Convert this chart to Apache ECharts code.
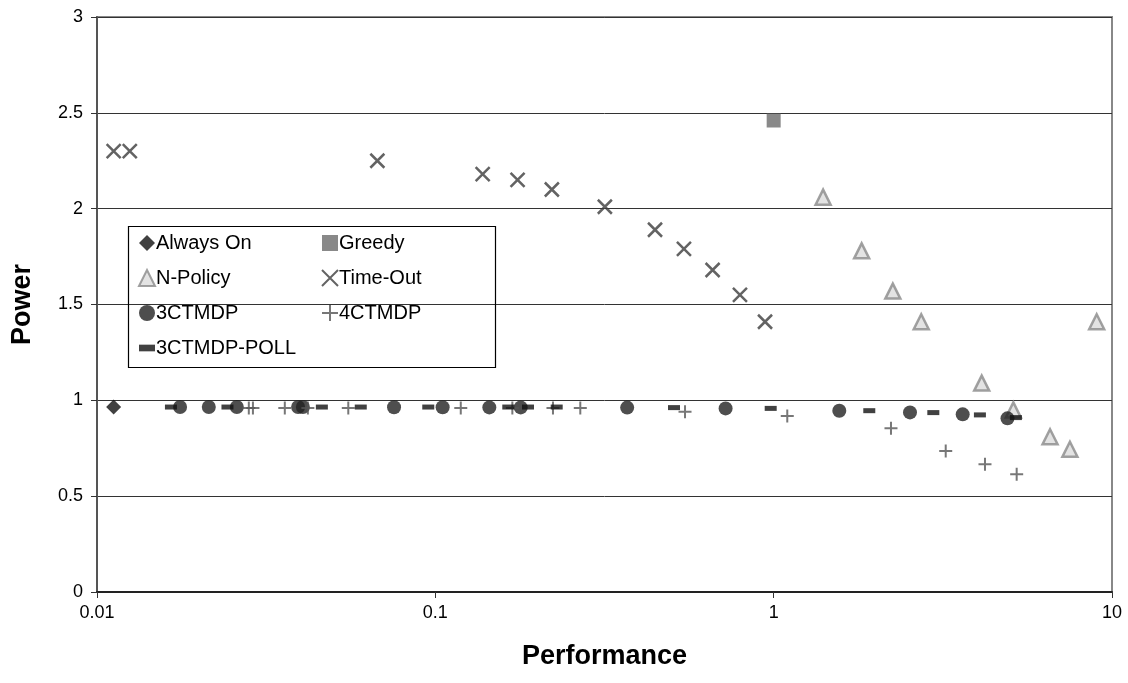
<!DOCTYPE html>
<html><head><meta charset="utf-8">
<script src="https://cdn.jsdelivr.net/npm/echarts@6/dist/echarts.min.js"></script>
<style>html,body{margin:0;padding:0;background:#fff}#c{width:1128px;height:683px}</style>
</head><body><div id="c"></div>
<script>
const xTicks = [0.01, 0.1, 1, 10];
const yTicks = [0, 0.5, 1, 1.5, 2, 2.5, 3];
const alwaysOnX = [0.0112];
const alwaysOnY = [0.965];
const greedyX = [1.0];
const greedyY = [2.46];
const nPolicyX = [1.40, 1.82, 2.25, 2.73, 4.12, 5.11, 6.56, 7.51, 9.01];
const nPolicyY = [2.06, 1.78, 1.57, 1.41, 1.09, 0.95, 0.81, 0.745, 1.41];
const timeOutX = [0.0112, 0.0125, 0.0674, 0.138, 0.175, 0.221, 0.317, 0.446, 0.543, 0.660, 0.795, 0.943];
const timeOutY = [2.30, 2.30, 2.25, 2.18, 2.15, 2.10, 2.01, 1.89, 1.79, 1.68, 1.55, 1.41];
const ctmdp3X = [0.0176, 0.0214, 0.0259, 0.0393, 0.0406, 0.0755, 0.1051, 0.1444, 0.1788, 0.369, 0.721, 1.563, 2.529, 3.62, 4.91];
const ctmdp3Y = [0.965, 0.965, 0.965, 0.965, 0.965, 0.964, 0.964, 0.963, 0.963, 0.962, 0.958, 0.946, 0.937, 0.927, 0.906];
const ctmdp4X = [0.0281, 0.0289, 0.0359, 0.0420, 0.0553, 0.1189, 0.1689, 0.2227, 0.2682, 0.547, 1.097, 2.222, 3.225, 4.213, 5.227];
const ctmdp4Y = [0.96, 0.96, 0.96, 0.96, 0.96, 0.96, 0.96, 0.96, 0.96, 0.941, 0.918, 0.854, 0.736, 0.666, 0.614];
const pollX = [0.01654, 0.0243, 0.0462, 0.0602, 0.0953, 0.1643, 0.1879, 0.2284, 0.5075, 0.980, 1.917, 2.964, 4.07, 5.20];
const pollY = [0.965, 0.965, 0.965, 0.965, 0.965, 0.965, 0.965, 0.965, 0.962, 0.958, 0.946, 0.936, 0.924, 0.910];

const zip = (xs, ys) => xs.map((x, i) => [x, ys[i]]);
const FONT = '"Liberation Sans", Arial, sans-serif';
const XPATH = 'path://M0,0L10,10M10,0L0,10';
const PLUS = 'path://M5,0L5,10M0,5L10,5';

const chart = echarts.init(document.getElementById('c'), null, {renderer: 'canvas'});
const legendText = {fontFamily: FONT, fontSize: 20, color: '#000', padding: [0, 0, 0, -4]};
const option = {
  animation: false,
  backgroundColor: '#fff',
  textStyle: {fontFamily: FONT},
  grid: {left: 97, right: 16, top: 17, bottom: 91, show: true, borderColor: '#888', borderWidth: 2},
  xAxis: {
    type: 'log', logBase: 10, min: xTicks[0], max: xTicks[xTicks.length - 1],
    name: 'Performance', nameLocation: 'middle', nameGap: 51,
    nameTextStyle: {fontFamily: FONT, fontSize: 27, fontWeight: 'bold', color: '#000'},
    axisLine: {show: true, lineStyle: {color: '#222', width: 2}},
    axisTick: {show: true, inside: false, length: 6, lineStyle: {color: '#333'}},
    splitLine: {show: false},
    axisLabel: {fontFamily: FONT, fontSize: 18, color: '#000', margin: 12,
      formatter: v => { const t = xTicks.find(t => Math.abs(t - v) / t < 1e-6); return t === undefined ? '' : String(t); }}
  },
  yAxis: {
    type: 'value', min: yTicks[0], max: yTicks[yTicks.length - 1], interval: 0.5,
    name: 'Power', nameLocation: 'middle', nameGap: 61, nameRotate: 90,
    nameTextStyle: {fontFamily: FONT, fontSize: 27, fontWeight: 'bold', color: '#000'},
    axisLine: {show: true, lineStyle: {color: '#555', width: 2}},
    axisTick: {show: true, inside: false, length: 6, lineStyle: {color: '#333'}},
    splitLine: {show: true, lineStyle: {color: '#333', width: 1}},
    axisLabel: {fontFamily: FONT, fontSize: 18, color: '#000', margin: 14,
      formatter: v => String(v)}
  },
  legend: [
    {left: 133, top: 228, orient: 'vertical', itemGap: 15, itemWidth: 16, itemHeight: 16,
     textStyle: legendText,
     data: [{name: 'Always On'}, {name: 'N-Policy'}, {name: '3CTMDP'}, {name: '3CTMDP-POLL', icon: 'path://M0,0h12v5h-12z'}]},
    {left: 316, top: 228, orient: 'vertical', itemGap: 15, itemWidth: 16, itemHeight: 16,
     textStyle: legendText,
     data: ['Greedy', 'Time-Out', '4CTMDP']}
  ],
  graphic: [{type: 'rect', left: 126, top: 224, shape: {width: 367, height: 141},
    style: {fill: 'none', stroke: '#000', lineWidth: 1.2}, z: 1}],
  series: [
    {name: 'Always On', type: 'scatter', symbol: 'diamond', symbolSize: 15,
     itemStyle: {color: '#111'}, data: zip(alwaysOnX, alwaysOnY)},
    {name: 'Greedy', type: 'scatter', symbol: 'rect', symbolSize: 14,
     itemStyle: {color: '#6b6b6b'}, data: zip(greedyX, greedyY)},
    {name: 'N-Policy', type: 'scatter', symbol: 'triangle', symbolSize: 15,
     itemStyle: {color: '#dcdcdc', borderColor: '#8a8a8a', borderWidth: 2.5}, data: zip(nPolicyX, nPolicyY)},
    {name: 'Time-Out', type: 'scatter', symbol: XPATH, symbolSize: 14,
     itemStyle: {color: '#3c3c3c', borderColor: '#3c3c3c', borderWidth: 2.5}, data: zip(timeOutX, timeOutY)},
    {name: '3CTMDP', type: 'scatter', symbol: 'circle', symbolSize: 14,
     itemStyle: {color: '#222'}, data: zip(ctmdp3X, ctmdp3Y)},
    {name: '4CTMDP', type: 'scatter', symbol: PLUS, symbolSize: 13,
     itemStyle: {color: '#555', borderColor: '#555', borderWidth: 2}, data: zip(ctmdp4X, ctmdp4Y)},
    {name: '3CTMDP-POLL', type: 'scatter', symbol: 'rect', symbolSize: [12, 5],
     itemStyle: {color: '#111'}, data: zip(pollX, pollY)}
  ]
};
chart.setOption(option);
</script></body></html>
